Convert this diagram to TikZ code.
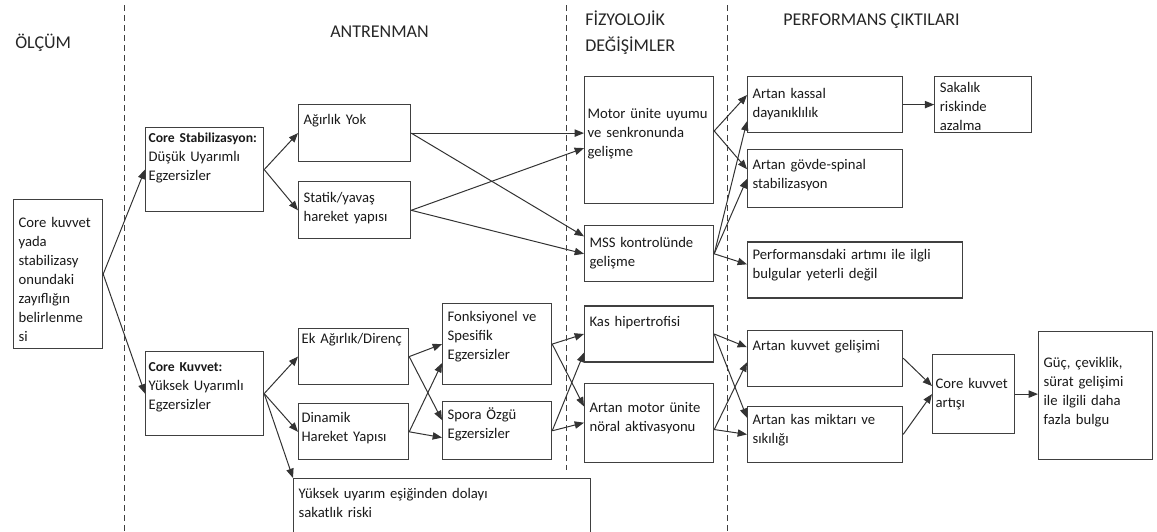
\documentclass[tikz,border=0pt]{standalone}
\usepackage{fontspec}
\setmainfont{Carlito}
\usepackage{tikz}
\usetikzlibrary{arrows.meta,positioning}

\newcommand{\kalin}[1]{\mbox{\fontsize{10.25}{14.25}\selectfont\textbf{#1}}}

\begin{document}
\begin{tikzpicture}[
  x=0.75pt, y=-0.75pt,
  kutu/.style n args={3}{rectangle, draw=black!75, line width=0.9pt, anchor=north west, align=left,
    inner xsep=3.75pt, inner ysep=0pt, text=black!90, font=\fontsize{11}{14.25}\selectfont,
    text width=#1, text height=#2, text depth=#3},
  dar/.style={inner xsep=2.25pt},
  baslik/.style={anchor=base west, inner sep=0pt, text=black!85, font=\fontsize{13.5}{20}\selectfont},
  ok/.style={-{Triangle[length=7pt,width=5.5pt]}, draw=black!80, line width=0.75pt},
  ayrac/.style={draw=black!75, line width=0.75pt, dash pattern=on 4.5pt off 3pt}
]
  \useasboundingbox (0,0) rectangle (1157,532);

  \draw[ayrac] (124,5) -- (124,532);
  \draw[ayrac] (566,5) -- (566,470);
  \draw[ayrac] (727,5) -- (727,532);

  \node[baslik] (olcumT) at (15,48) {ÖLÇÜM};
  \node[baslik] (antT) at (330,37) {ANTRENMAN};
  \node[baslik, align=left, text width=120pt] (fizT) at (585,25) {FİZYOLOJİK\\DEĞİŞİMLER};
  \node[baslik] (perfT) at (783,25) {PERFORMANS ÇIKTILARI};

  \node[kutu={59.25pt}{21pt}{90.75pt}] (olcum) at (13,199)
    {Core kuvvet\\yada\\stabilizasy\\onundaki\\zayıflığın\\belirlenme\\si};

  \node[kutu={84pt}{11.25pt}{51.75pt}, dar] (stab) at (145,127)
    {\kalin{Core Stabilizasyon:}\\Düşük Uyarımlı\\Egzersizler};
  \node[kutu={84pt}{15pt}{48pt}, dar] (kuvvet) at (145,351)
    {\kalin{Core Kuvvet:}\\Yüksek Uyarımlı\\Egzersizler};

  \node[kutu={76.5pt}{15pt}{27.75pt}] (agirlik) at (298,104) {Ağırlık Yok};
  \node[kutu={76.5pt}{15.75pt}{27pt}, below=14.25pt of agirlik.south west, anchor=north west] (statik)
    {Statik/yavaş\\hareket yapısı};
  \node[kutu={78pt}{11.25pt}{30.75pt}, dar] (ek) at (298,328) {Ek Ağırlık/Direnç};
  \node[kutu={78pt}{14.25pt}{27.75pt}, dar, below=13.5pt of ek.south west, anchor=north west] (dinamik)
    {Dinamik\\Hareket Yapısı};
  \node[kutu={215.25pt}{15pt}{30pt}] (yuksek) at (293,478)
    {Yüksek uyarım eşiğinden dolayı\\sakatlık riski};

  \node[kutu={74.25pt}{13.5pt}{47.25pt}] (fonk) at (442,303)
    {Fonksiyonel ve\\Spesifik\\Egzersizler};
  \node[kutu={74.25pt}{13.5pt}{30pt}, below=12pt of fonk.south west, anchor=north west] (spora)
    {Spora Özgü\\Egzersizler};

  \node[kutu={92.25pt}{31.5pt}{63.75pt}, dar] (motor) at (584,76)
    {\mbox{Motor ünite uyumu}\\ve senkronunda\\gelişme};
  \node[kutu={89.25pt}{16.5pt}{25.5pt}, below=15.75pt of motor.south west, anchor=north west] (mss)
    {MSS kontrolünde\\gelişme};
  \node[kutu={89.25pt}{15pt}{27pt}, below=17.25pt of mss.south west, anchor=north west] (kas)
    {Kas hipertrofisi};
  \node[kutu={89.25pt}{21.75pt}{37.5pt}, below=15pt of kas.south west, anchor=north west] (amotor)
    {Artan motor ünite\\nöral aktivasyonu};

  \node[kutu={108.75pt}{16.5pt}{25.5pt}] (kassal) at (747,76)
    {Artan kassal\\dayanıklılık};
  \node[kutu={65.25pt}{12pt}{30pt}, right=23.25pt of kassal.north east, anchor=north west] (sakat)
    {Sakalık\\riskinde\\azalma};
  \node[kutu={108.75pt}{15pt}{28.5pt}, below=12pt of kassal.south west, anchor=north west] (govde)
    {Artan gövde-spinal\\stabilizasyon};
  \node[kutu={153.75pt}{12.75pt}{29.25pt}, below=24.75pt of govde.south west, anchor=north west] (perf)
    {Performansdaki artımı ile ilgli\\bulgular yeterli değil};
  \node[kutu={108.75pt}{15pt}{27pt}, below=23.25pt of perf.south west, anchor=north west] (kgel)
    {Artan kuvvet gelişimi};
  \node[kutu={108.75pt}{13.5pt}{28.5pt}, below=14.25pt of kgel.south west, anchor=north west] (kasmik)
    {Artan kas miktarı ve\\sıkılığı};

  \node[kutu={57pt}{25.5pt}{33.75pt}, dar] (corekuv) at (932,354) {\mbox{Core kuvvet}\\artışı};
  \node[kutu={78pt}{27pt}{69pt}] (guc) at (1038,331)
    {Güç, çeviklik,\\sürat gelişimi\\ile ilgili daha\\fazla bulgu};

  \draw[ok] (olcum.east) -- (stab.west);
  \draw[ok] (olcum.east) -- (kuvvet.west);
  \draw[ok] (stab.east) -- (agirlik.west);
  \draw[ok] (stab.east) -- (statik.west);
  \draw[ok] (kuvvet.east) -- (ek.west);
  \draw[ok] (kuvvet.east) -- (dinamik.west);
  \draw[ok] (kuvvet.east) -- (yuksek.north west);

  \draw[ok] (agirlik.east) -- (agirlik.east -| motor.west);
  \draw[ok] (agirlik.east) -- (mss.165);
  \draw[ok] (statik.east) -- (motor.187);
  \draw[ok] (statik.east) -- (mss.west);
  \draw[ok] (ek.east) -- (fonk.west);
  \draw[ok] (ek.east) -- (spora.169);
  \draw[ok] (dinamik.east) -- (fonk.199);
  \draw[ok] (dinamik.east) -- (spora.187);
  \draw[ok] (fonk.east) -- (kas.west);
  \draw[ok] (fonk.east) -- (amotor.166);
  \draw[ok] (spora.east) -- (kas.196);
  \draw[ok] (spora.east) -- (amotor.west);

  \draw[ok] (motor.8) -- (kassal.173);
  \draw[ok] (motor.8) -- (govde.173);
  \draw[ok] (mss.east) -- (kassal.192);
  \draw[ok] (mss.east) -- (govde.west);
  \draw[ok] (mss.east) -- (perf.177);
  \draw[ok] (kas.east) -- (kgel.172);
  \draw[ok] (kas.east) -- (kasmik.168);
  \draw[ok] (amotor.354) -- (kgel.183);
  \draw[ok] (amotor.354) -- (kasmik.west);

  \draw[ok] (kassal.east) -- (sakat.west);
  \draw[ok] (kgel.east) -- (corekuv.169);
  \draw[ok] (kasmik.east) -- (corekuv.west);
  \draw[ok] (corekuv.east) -- (corekuv.east -| guc.west);
\end{tikzpicture}
\end{document}
